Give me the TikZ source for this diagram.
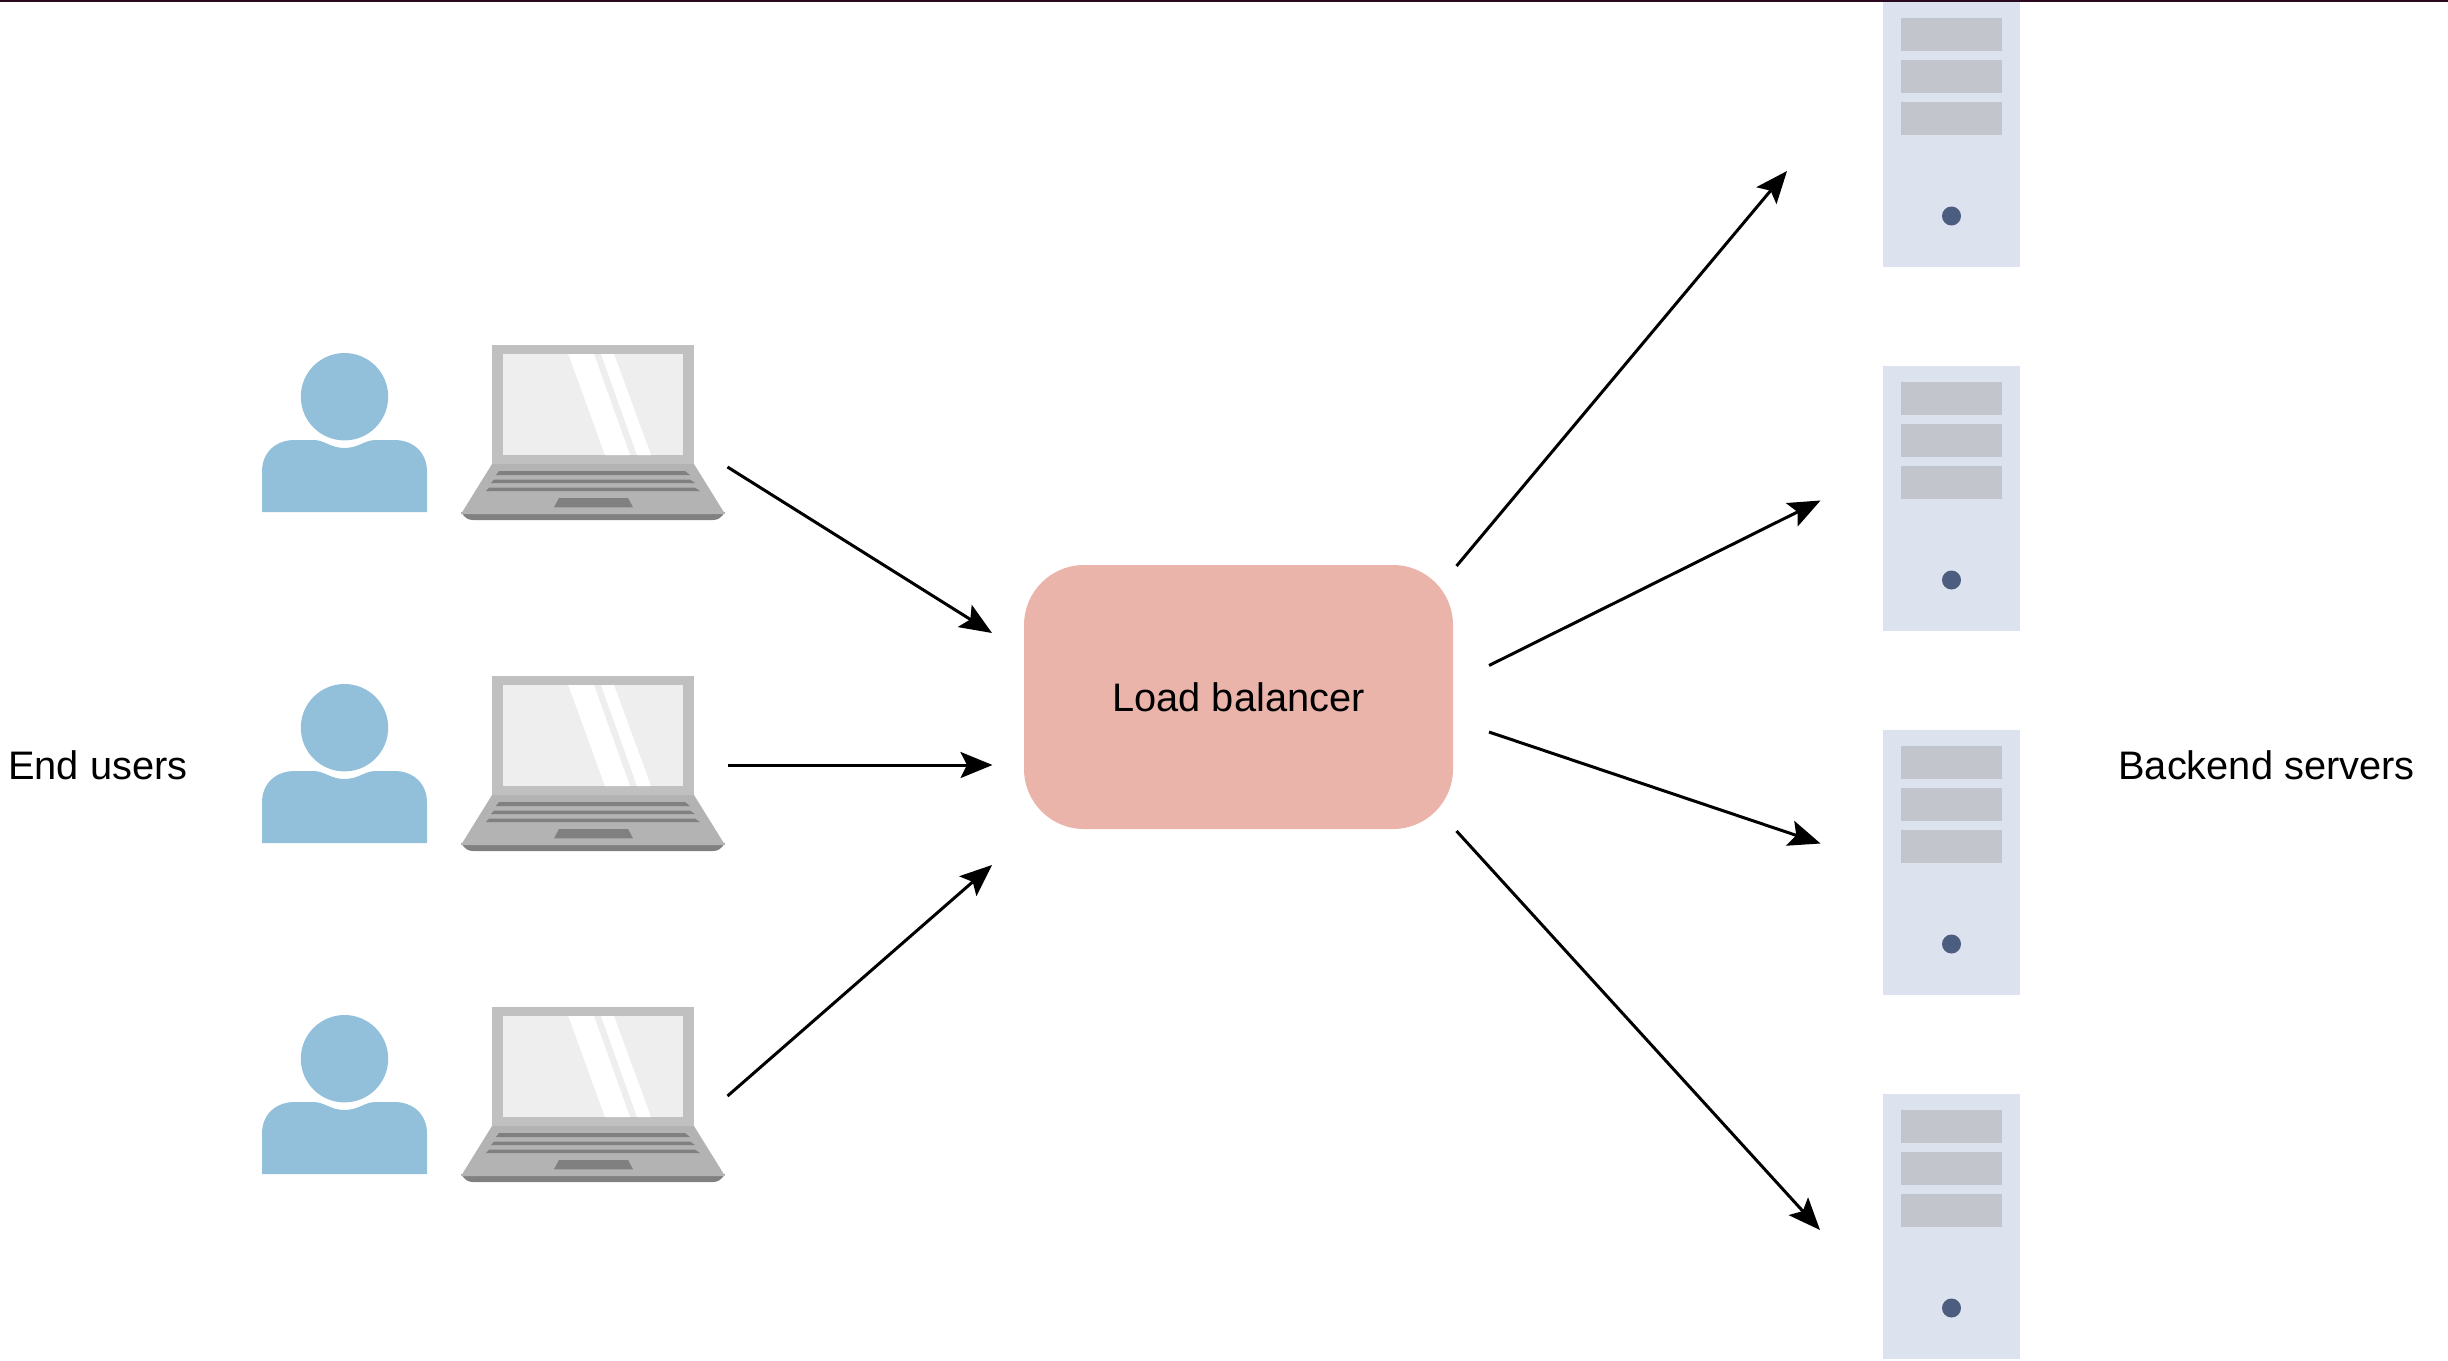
\documentclass[tikz,border=0pt]{standalone}
\usepackage{fontspec}
\setmainfont{Liberation Sans}
\usetikzlibrary{arrows.meta}
\definecolor{userblue}{HTML}{92C0DB}
\definecolor{lidgrey}{HTML}{C0C0C0}
\definecolor{screengrey}{HTML}{EEEEEE}
\definecolor{basegrey}{HTML}{B3B3B3}
\definecolor{keygrey}{HTML}{808080}
\definecolor{towerblue}{HTML}{DDE2EF}
\definecolor{rackgrey}{HTML}{C2C5CC}
\definecolor{ledblue}{HTML}{4D5D80}
\definecolor{lbred}{HTML}{EAB4AB}
\definecolor{topline}{HTML}{2B0A1F}
\tikzset{
  label/.style={font=\fontsize{9.95pt}{12pt}\selectfont, inner sep=0pt},
  conn/.style={line width=0.75pt, -{Stealth[length=8pt,width=6.5pt,inset=1.6pt]}},
  lbbox/.style={fill=lbred, rounded corners=15pt, minimum width=107.25pt, minimum height=66pt, inner sep=0pt},
  user/.pic={
    \fill[userblue] (0,0) circle (43.7);
    \fill[userblue] (-82.5,115.3) -- (-82.5,75) .. controls (-82.5,55) and (-68,43.3) .. (-50,43.3)
      -- (-31,43.3) .. controls (-20,43.3) and (-14,51.3) .. (0,51.3)
      .. controls (14,51.3) and (20,43.3) .. (31,43.3) -- (50,43.3)
      .. controls (68,43.3) and (82.5,55) .. (82.5,75) -- (82.5,115.3) -- cycle;
  },
  laptop/.pic={
    \fill[keygrey] (-31,167) .. controls (-27,173) and (-24,175) .. (-19,175) -- (221,175)
      .. controls (226,175) and (229,173) .. (233,167) -- cycle;
    \fill[basegrey] (0,119) -- (202,119) -- (233,169) -- (-31,169) -- cycle;
    \fill[lidgrey] (0,0) rectangle (202,119);
    \fill[screengrey] (11,9) rectangle (191,110);
    \fill[white] (76.3,9) -- (102,9) -- (138,110) -- (113,110) -- cycle;
    \fill[white] (109,9) -- (122,9) -- (159,110) -- (145,110) -- cycle;
    \fill[keygrey] (7,126) -- (193,126) -- (198,130) -- (4,130) -- cycle;
    \fill[keygrey] (2,134.5) -- (198,134.5) -- (203,138) -- (-1,138) -- cycle;
    \fill[keygrey] (-3,142.7) -- (203,142.7) -- (208,146) -- (-6,146) -- cycle;
    \fill[keygrey] (67,153) -- (136,153) -- (141,162.3) -- (62,162.3) -- cycle;
  },
  tower/.pic={
    \fill[towerblue] (0,0) rectangle (137,265);
    \fill[rackgrey] (18,16) rectangle (119,49);
    \fill[rackgrey] (18,58) rectangle (119,91);
    \fill[rackgrey] (18,100) rectangle (119,133);
    \fill[ledblue] (69,214) circle (9.5);
  }
}
\begin{document}
\begin{tikzpicture}[x=0.25pt,y=-0.25pt]
  \useasboundingbox (0,0) rectangle (2448,1360);
  \fill[topline] (0,0) rectangle (2448,2);
  % End users
  \pic at (344.5,396.7) {user};
  \pic at (344.5,727.7) {user};
  \pic at (344.5,1058.7) {user};
  \pic at (492,345) {laptop};
  \pic at (492,676) {laptop};
  \pic at (492,1007) {laptop};
  % Backend servers
  \pic at (1882.5,2) {tower};
  \pic at (1882.5,366) {tower};
  \pic at (1882.5,730) {tower};
  \pic at (1882.5,1094) {tower};
  % Labels
  \node[label, anchor=west] (users) at (7.5,765) {End users};
  \node[label, anchor=west] (backend) at (2117.5,765) {Backend servers};
  \node[lbbox, label] (lb) at (1238.5,697) {Load balancer};
  % Arrow ends
  \coordinate (from1) at (727.5,467);
  \coordinate (from2) at (727.5,765);
  \coordinate (from3) at (727.5,1096);
  \coordinate (in1) at (992,633);
  \coordinate (in2) at (992.5,765);
  \coordinate (in3) at (992,865);
  \coordinate (out1) at (1456.5,566);
  \coordinate (out2) at (1489,665.5);
  \coordinate (out3) at (1489,732);
  \coordinate (out4) at (1456.5,831);
  \coordinate (srv1) at (1787,171);
  \coordinate (srv2) at (1820.5,500.5);
  \coordinate (srv3) at (1820.5,843.5);
  \coordinate (srv4) at (1820,1230);
  % Arrows
  \draw[conn] (from1) -- (in1);
  \draw[conn] (from2) -- (in2);
  \draw[conn] (from3) -- (in3);
  \draw[conn] (out1) -- (srv1);
  \draw[conn] (out2) -- (srv2);
  \draw[conn] (out3) -- (srv3);
  \draw[conn] (out4) -- (srv4);
\end{tikzpicture}
\end{document}
